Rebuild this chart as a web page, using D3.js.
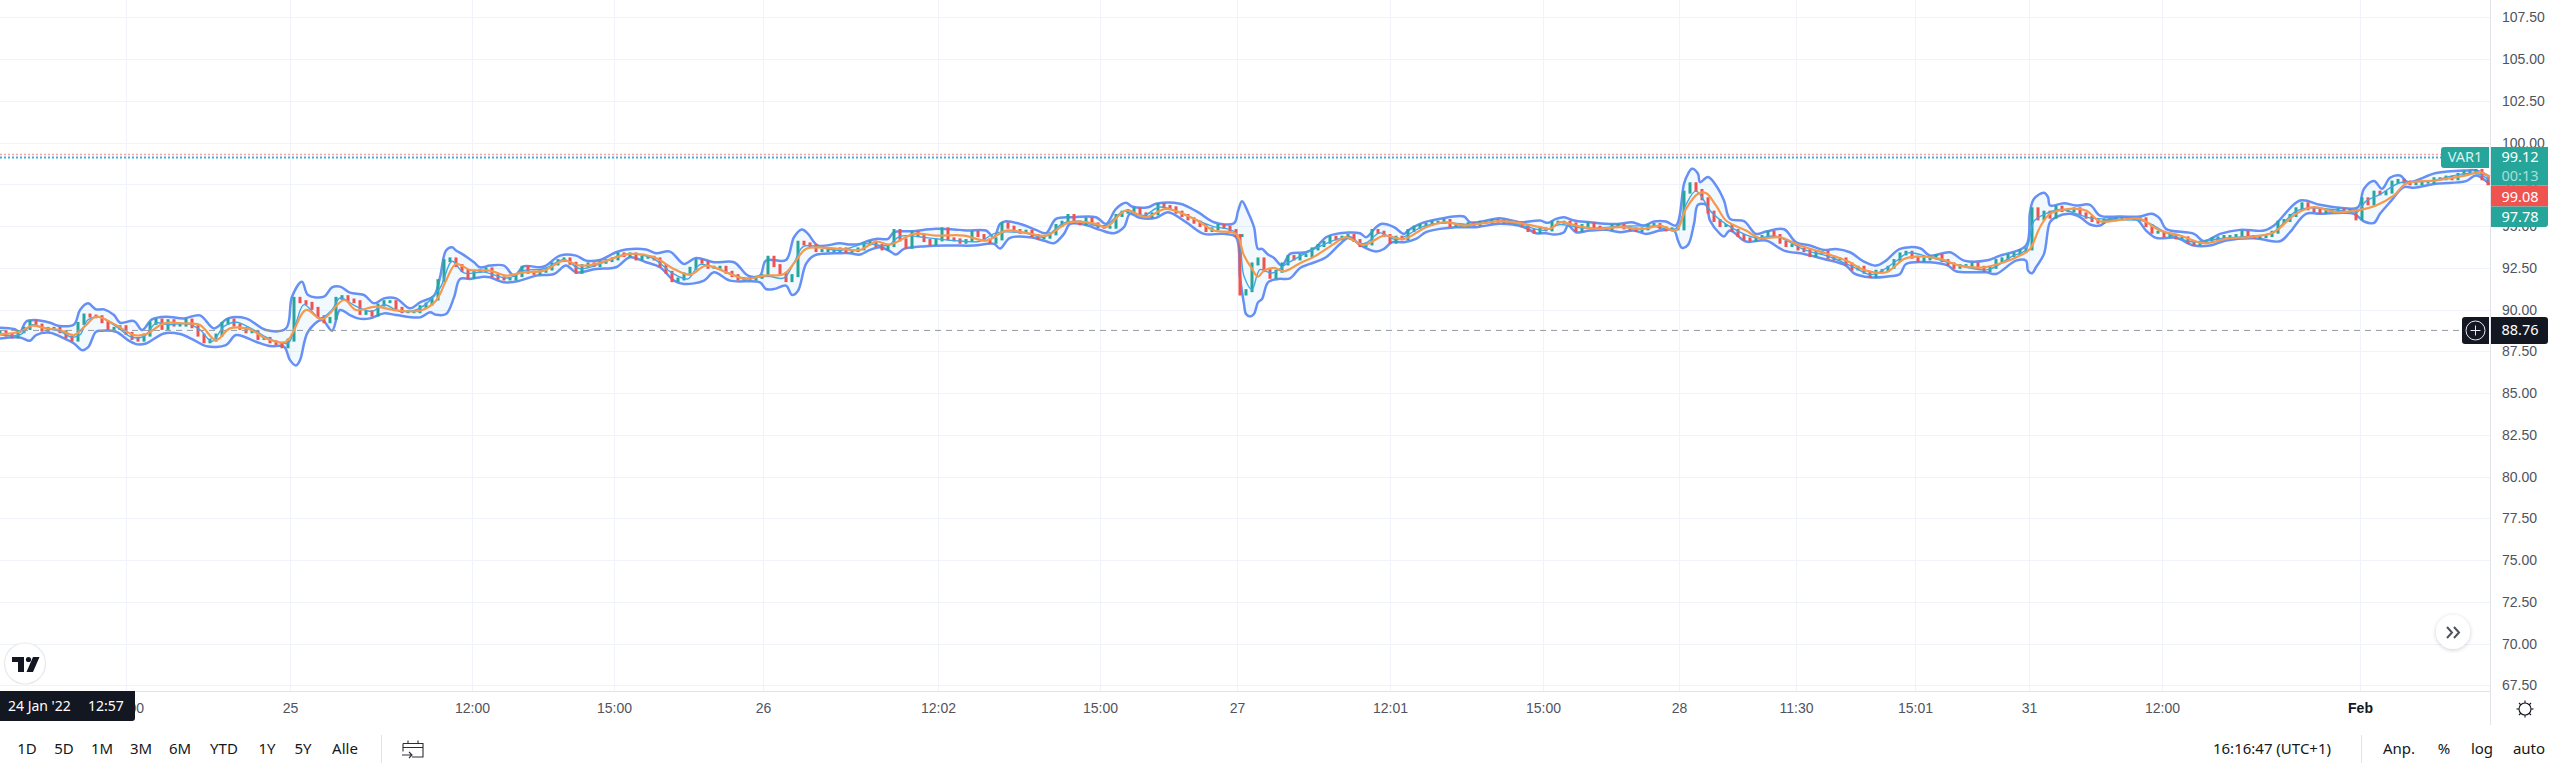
<!DOCTYPE html>
<html>
<head>
<meta charset="utf-8">
<title>VAR1</title>
<script src="https://d3js.org/d3.v7.min.js"></script>
<style>
  html, body { margin: 0; padding: 0; background: #fff; overflow: hidden; }
  svg { display: block; font-family: "Noto Sans", "Open Sans", sans-serif; }
  .tick text { fill: #50535e; }
  .btn { font-size: 15px; fill: #131722; text-anchor: middle; }
</style>
</head>
<body>
<div id="chart"></div>
<script>
// axis data
const priceTicks = [67.5,70,72.5,75,77.5,80,82.5,85,87.5,90,92.5,95,97.5,100,102.5,105,107.5];
const timeTickBars = [63,145,236,307,381.5,469,550,618.5,695,771.5,839.5,898,957.5,1014.5,1081,1180];
const timeTickLabels = ["15:00","25","12:00","15:00","26","12:02","15:00","27","12:01","15:00","28","11:30","15:01","31","12:00","Feb"];
const rangeButtons = ["1D","5D","1M","3M","6M","YTD","1Y","5Y","Alle"];
const rightButtons = ["Anp.","%","log","auto"];

// price lines
const lastPrice = 99.12, maPrice = 99.08, lowerPrice = 97.78, crossPrice = 88.76, redLine = 99.3;

// closes, one array per stretch of the chart, a bar every 3 steps
const closes1 = [88.68,88.48,88.38,88.68,88.88,89.28,89.08,88.78,88.88,88.88,88.68,88.38,88.18,89.18,89.68,89.62,89.58,89.28,88.88,88.88,88.98,88.58,88.28,88.18,88.48,89.18,89.38,88.88,89.34,89.08,89.08,89.38,88.98,88.48,88.08,88.18,88.48,89.18,89.38,89.08,88.88,88.68,88.68,88.28,88.28,88.08,87.98,87.78,88.18,90.68,90.48,90.38,90.08,89.58,89.28,89.48,90.68,90.78,90.58,90.48,89.78,89.88,89.68,90.28,90.48,90.48,90.08,89.88,89.88,89.88,90.18];
const closes2 = [90.34,90.64,91.74,92.94,93.04,92.64,92.34,91.94,92.3,92.34,92.44,92.04,91.9,91.84,91.84,92.04,92.54,92.24,92.18,92.3,92.44,92.74,92.94,93.04,92.78,92.24,92.64,92.74,92.64,92.84,92.94,93.04,93.34,93.24,93.34,93.04,93.14,93.14,93.04,92.64,92.24,91.74,91.84,92.14,92.48,92.94,92.84,92.54,92.54,92.54,92.24,92.04,91.84,91.84,91.84,91.94,92.04,93.14,92.64,92.14,91.74,92.04,94.04,93.94,93.84,93.54,93.54,93.54,93.54,93.64];
const closes3 = [93.5,93.54,93.64,93.94,94.04,93.84,93.64,93.84,94.74,94.18,93.74,94.64,94.44,94.14,93.94,94.18,94.84,94.24,94.18,94.04,94.14,94.64,94.44,94.18,94.04,94.24,95.14,94.94,94.74,94.64,94.7,94.44,94.3,94.34,94.54,95.04,95.24,95.64,95.24,95.14,95.44,95.14,94.98,94.94,94.94,95.64,95.84,95.94,96.04,95.74,95.58,95.74,96.3,96.18,96.1,95.84,95.64,95.44,95.24,95.04,94.74,94.84,95.04,94.94,94.74,94.44,94.44];
const closes4 = [90.94,91.14,92.74,93.04,92.34,91.94,92.3,92.74,93.18,93.04,93.24,93.24,93.64,93.84,94.04,94.34,94.24,94.34,94.44,94.14,93.84,93.94,94.74,94.64,94.44,94.04,94.34,94.24,94.74,94.94,95.04,95.1,95.24,95.24,95.34,95.04,95.04,95.04,95.14,95.1,95.24,95.24,95.34,95.3,95.24,95.24,95.14,95.04,94.74,94.64,94.84,94.78,95.24,95.24,95.24,95.14,94.74,95.04,95.14,94.94,94.84,94.84,95.04,95.04];
const closes5 = [94.9,94.84,94.74,94.84,95.04,95.1,94.9,94.78,94.84,94.84,97.04,97.54,97.14,96.64,95.84,95.34,95.04,95.04,94.74,94.44,94.24,94.18,94.3,94.38,94.64,94.44,94.04,93.84,93.84,93.64,93.54,93.24,93.44,93.44,93.14,93.04,93.04,92.74,92.44,92.54,92.24,91.98,92.3,92.34,92.54,92.94,93.34,93.44,93.14,92.94,93.04,93.14,93.24,92.94,92.74,92.54,92.64,92.64,92.74,92.54,92.34,92.54,92.94,93.04,93.24,93.34,93.54,93.64];
const closes6 = [96.04,95.44,95.84,95.54,96.14,95.94,95.94,96.04,95.74,95.54,95.34,95.24,95.38,95.38,95.44,95.44,95.44,95.44,95.44,95.04,94.64,94.64,94.44,94.44,94.3,94.3,94.04,93.94,94.04,94.1,94.24,94.3,94.38,94.38,94.44,94.64,94.38,94.34,94.38,94.44,94.64,95.24,95.34,95.64,96.04,96.34,96.04,95.94,95.84,95.9,95.94,95.98,95.9,95.94,95.44,96.64,96.34,97.04,96.94,97.04,97.64,97.74,97.64,97.54,97.54,97.64,97.64,97.84,97.84,97.94,97.84,98.1,98.24,98.24,98.34,97.84,97.54];
const closeStarts = [0,213,423,620,812,1016];

// upper bollinger band [bar, price]
const upper1 = [[0,88.92],[7,88.84],[10,88.68],[13,89.28],[17,89.38],[25,89.22],[29,89.04],[37,89.12],[40,89.98],[44,90.38],[48,90.02],[52,90.02],[57,89.68],[60,89.22],[67,89.32],[71,88.78],[76,89.42],[83,89.58],[92,89.48],[100,89.66],[107,88.88],[114,89.48],[123,89.48],[133,88.78],[143,88.88],[146,90.78],[151,91.68],[154,90.88],[162,90.78],[166,91.34],[170,91.38],[175,91.02],[182,90.88],[187,90.38],[192,90.68],[198,90.68],[205,90.08]];
const upper2 = [[210,90.44],[217,90.84],[220,91.94],[223,93.54],[226,93.74],[228,93.54],[231,93.34],[237,92.84],[240,92.54],[245,92.64],[252,92.64],[257,92.04],[262,92.6],[270,92.54],[273,92.64],[280,93.24],[288,93.24],[293,92.94],[300,92.98],[308,93.44],[313,93.6],[323,93.6],[328,93.38],[335,93.48],[342,92.74],[348,93.1],[357,92.84],[367,92.84],[374,92.04],[380,92.04],[383,92.94],[393,92.98],[397,94.34],[401,94.8],[404,94.54],[409,93.84]];
const upper3 = [[420,93.98],[425,93.9],[430,93.94],[433,94.08],[438,94.24],[444,94.24],[447,94.64],[456,94.7],[468,94.84],[480,94.78],[484,94.74],[493,94.74],[497,94.34],[500,95.14],[503,95.3],[511,95.1],[518,94.78],[523,94.58],[528,95.44],[537,95.54],[548,95.54],[553,95.14],[558,96.04],[563,96.4],[566,96.18],[574,96.14],[578,96.34],[590,96.34],[599,95.84],[607,95.24],[617,95.18]];
const upper4 = [[619,95.9],[621,96.5],[624,95.84],[627,94.94],[629,93.64],[631,93.64],[634,93.3],[637,93.1],[641,92.64],[645,93.34],[653,93.44],[658,93.74],[663,94.34],[668,94.54],[680,94.58],[683,94.34],[688,94.94],[691,95.14],[697,94.94],[702,94.54],[704,94.74],[710,95.14],[720,95.44],[732,95.58],[735,95.24],[745,95.38],[750,95.48],[760,95.24],[770,95.34],[774,95.2],[778,95.44],[782,95.54],[787,95.34],[795,95.24],[803,95.14]];
const upper5 = [[810,95.14],[816,95.24],[822,95.04],[827,95.28],[833,95.28],[838,95.04],[842,97.54],[844,98.14],[846,98.44],[849,98.14],[850,97.64],[854,97.94],[858,97.44],[862,96.54],[865,95.44],[872,95.3],[878,94.54],[883,94.68],[892,94.82],[898,94.04],[905,93.84],[912,93.58],[918,93.64],[925,93.44],[932,92.88],[938,92.64],[943,92.94],[950,93.64],[960,93.68],[965,93.24],[975,93.44],[982,92.94],[993,92.94],[1000,93.24],[1013,93.84]];
const upper6 = [[1015,95.84],[1017,96.64],[1022,97.0],[1024,96.74],[1025,96.24],[1032,96.38],[1038,96.24],[1045,96.28],[1050,95.64],[1060,95.58],[1070,95.58],[1076,95.74],[1080,95.44],[1083,94.84],[1097,94.54],[1102,94.1],[1110,94.54],[1120,94.78],[1132,94.74],[1137,95.04],[1150,96.54],[1160,96.28],[1170,96.1],[1179,96.14],[1182,97.24],[1187,97.7],[1191,97.24],[1195,97.9],[1200,98.04],[1204,97.64],[1218,98.18],[1233,98.34],[1238,98.34],[1245,97.95]];

// lower bollinger band
const lower1 = [[0,88.28],[10,88.34],[15,88.14],[18,88.48],[25,88.62],[32,88.28],[37,87.98],[41,87.58],[44,87.74],[48,88.68],[51,88.74],[58,88.68],[64,88.18],[68,87.94],[73,87.98],[82,88.58],[90,88.54],[97,88.18],[103,87.82],[113,87.88],[118,88.48],[128,88.08],[135,87.82],[142,87.78],[145,86.98],[148,86.66],[150,86.98],[154,88.68],[161,89.38],[166,88.74],[170,89.98],[175,89.68],[179,89.48],[185,89.48],[192,89.78],[198,89.68]];
const lower2 = [[210,89.54],[215,89.84],[218,89.7],[223,89.74],[227,90.74],[230,91.84],[235,91.84],[242,91.98],[245,91.94],[252,91.64],[260,91.74],[268,92.04],[277,92.14],[283,92.64],[288,92.24],[298,92.44],[308,92.54],[315,93.14],[323,92.84],[330,92.54],[337,91.74],[342,91.54],[352,91.74],[357,92.24],[365,91.74],[380,91.64],[383,91.24],[387,91.24],[393,91.44],[396,90.88],[399,91.14],[403,92.74],[407,93.24]];
const lower3 = [[420,93.38],[425,93.38],[430,93.3],[435,93.58],[440,93.74],[445,93.5],[448,93.3],[452,93.64],[463,93.8],[475,93.84],[487,93.84],[497,93.94],[500,93.66],[505,94.3],[515,94.34],[523,94.1],[527,93.98],[532,94.54],[535,95.14],[542,95.1],[550,94.78],[557,94.58],[562,94.94],[565,95.74],[570,95.5],[578,95.5],[584,95.84],[593,95.24],[602,94.54],[612,94.54]];
const lower4 = [[618,94.34],[620,91.94],[622,90.34],[623,89.74],[625,89.6],[627,89.74],[629,90.44],[631,90.64],[634,91.64],[639,91.84],[645,91.88],[650,92.5],[655,92.74],[663,93.14],[670,93.94],[675,94.34],[680,93.88],[688,93.48],[692,93.64],[696,94.04],[702,94.04],[708,94.24],[713,94.64],[720,94.84],[728,94.94],[738,94.94],[750,95.14],[762,94.94],[768,94.58],[773,94.58],[777,94.5],[782,94.64],[784,95.04],[788,94.64],[795,94.74],[803,94.78]];
const lower5 = [[810,94.64],[817,94.74],[823,94.54],[830,94.74],[837,94.74],[839,94.14],[841,93.7],[844,93.88],[847,95.14],[849,96.28],[853,96.28],[855,95.34],[860,94.54],[862,94.38],[865,94.74],[873,94.08],[883,94.14],[892,93.54],[902,93.34],[912,93.04],[923,92.64],[927,92.18],[935,91.94],[943,91.98],[950,92.14],[953,92.74],[965,92.84],[974,92.64],[978,92.3],[993,92.24],[998,92.14],[1008,92.94]];
const lower6 = [[1013,92.94],[1014,92.34],[1016,92.18],[1018,92.54],[1022,93.34],[1025,95.24],[1028,95.54],[1035,95.74],[1040,95.54],[1045,95.1],[1050,95.04],[1055,95.44],[1068,95.44],[1073,94.74],[1078,94.3],[1088,94.3],[1097,93.84],[1105,93.84],[1113,94.14],[1127,94.28],[1140,94.1],[1145,94.64],[1153,95.74],[1160,95.74],[1177,95.74],[1182,95.28],[1187,95.2],[1190,95.74],[1195,96.44],[1202,97.34],[1207,97.3],[1218,97.54],[1233,97.7],[1238,98.04],[1245,97.5]];

// slow moving average
const slowMa = [[0,88.54],[10,88.68],[16,89.04],[23,88.88],[30,88.78],[37,88.48],[43,89.08],[48,89.58],[58,89.08],[67,88.48],[73,88.54],[82,89.18],[92,89.18],[100,89.08],[108,88.18],[115,88.88],[125,88.82],[133,88.28],[143,88.08],[153,89.98],[161,89.42],[172,90.58],[178,89.98],[188,90.18],[197,89.98],
  [210,89.94],[218,90.54],[223,91.74],[228,92.74],[235,92.38],[245,92.34],[253,92.04],[262,92.24],[272,92.34],[282,92.94],[290,92.64],[298,92.74],[315,93.34],[327,93.14],[337,92.44],[345,92.1],[353,92.64],[365,92.14],[373,91.84],[382,92.04],[392,92.14],[398,92.94],[403,93.64],
  [420,93.64],[430,93.58],[438,94.08],[445,93.9],[457,94.54],[468,94.44],[482,94.44],[493,94.14],[503,94.74],[513,94.6],[523,94.44],[535,95.24],[548,95.14],[553,94.94],[563,95.94],[573,95.54],[583,96.04],[597,95.44],[607,94.74],
  [618,94.54],[622,93.24],[626,92.44],[629,91.98],[632,92.34],[637,92.5],[642,92.3],[650,92.78],[658,93.24],[667,93.94],[673,94.34],[682,93.88],[692,94.44],[702,94.24],[713,94.94],[723,95.24],[732,95.04],[742,95.18],[750,95.3],[760,95.18],[770,94.94],[775,94.84],[780,95.24],[788,95.04],[798,94.84],
  [810,94.94],[822,94.84],[830,95.04],[838,94.74],[843,96.04],[849,96.94],[853,96.98],[858,96.24],[863,95.34],[873,94.74],[880,94.28],[890,94.34],[900,93.84],[910,93.48],[923,92.94],[933,92.34],[943,92.24],[952,93.04],[958,93.18],[970,93.04],[980,92.64],[992,92.54],[1002,92.84],
  [1010,93.24],[1015,93.64],[1020,94.94],[1025,95.74],[1035,96.04],[1043,95.94],[1050,95.3],[1060,95.38],[1070,95.44],[1080,94.74],[1090,94.44],[1102,93.98],[1113,94.24],[1127,94.38],[1137,94.64],[1148,95.74],[1157,96.14],[1168,95.84],[1180,95.98],[1188,96.24],[1197,96.84],[1203,97.54],[1218,97.74],[1233,98.04],[1240,98.24],[1245,97.94]];

// fast moving average
const fastMa = [[0,88.5],[10,88.5],[16,89.1],[22,88.9],[30,88.7],[36,88.35],[40,88.5],[44,89.4],[50,89.55],[58,89.0],[66,88.35],[72,88.4],[78,89.2],[84,89.1],[94,89.15],[100,88.8],[106,88.1],[112,89.0],[118,89.25],[126,88.85],[134,88.3],[144,88.0],[148,89.2],[152,90.3],[160,89.5],[166,90.0],[170,90.7],[178,90.2],[186,89.9],[192,90.3],[200,89.9],[210,90.1],
  [220,91.3],[226,92.9],[232,92.2],[242,92.25],[254,91.9],[262,92.35],[272,92.45],[282,93.0],[290,92.45],[300,92.75],[312,93.3],[326,93.1],[336,92.2],[344,91.85],[350,92.7],[360,92.4],[372,91.9],[384,92.0],[392,91.9],[397,92.8],[402,93.8],[420,93.55],
  [432,93.95],[444,93.85],[450,94.4],[464,94.3],[476,94.15],[490,94.1],[498,94.6],[512,94.6],[522,94.35],[532,95.2],[540,95.3],[552,95.0],[562,95.9],[572,95.65],[580,96.15],[596,95.5],[606,95.0],[618,94.6],[622,92.0],[626,91.2],[630,92.4],[636,92.2],[644,92.8],[660,93.8],[672,94.3],[682,93.95],[690,94.6],[698,94.2],[712,95.0],[724,95.2],[736,95.1],[750,95.3],[764,94.95],[772,94.75],[780,95.1],[790,94.9],[800,94.9],[810,95.0],
  [826,95.0],[838,94.85],[843,96.3],[848,97.1],[856,95.8],[866,94.9],[878,94.3],[888,94.4],[902,93.6],[914,93.2],[926,92.6],[936,92.1],[948,92.9],[954,93.4],[966,93.1],[978,92.7],[994,92.4],[1006,93.2],[1013,93.6],[1017,95.3],[1022,95.7],[1030,96.0],[1045,95.5],[1060,95.4],[1072,95.3],[1085,94.5],[1097,94.05],[1110,94.25],[1125,94.4],[1136,94.6],[1148,95.9],[1154,96.1],[1170,95.95],[1178,95.8],[1183,96.5],[1190,96.9],[1200,97.6],[1215,97.7],[1232,98.15],[1240,98.1],[1245,97.7]];

const upColor = "#26a69a", downColor = "#ef5350", dark = "#131722", gridColor = "#f0f3fa", lineColor = "#e0e3eb";

const width = 2560, height = 773;
const paneW = 2490, paneH = 691, axisBottom = 725;

const svg = d3.select("#chart").append("svg").attr("width", width).attr("height", height);
const defs = svg.append("defs");
defs.append("clipPath").attr("id", "pane").append("rect").attr("width", paneW).attr("height", paneH);
defs.append("clipPath").attr("id", "yclip").append("rect").attr("x", paneW).attr("width", 70).attr("height", paneH);
defs.append("filter").attr("id", "shadow").append("feDropShadow")
  .attr("dx", 0).attr("dy", 1).attr("stdDeviation", 2).attr("flood-color", "#000").attr("flood-opacity", 0.2);

const x = d3.scaleLinear().domain([0, 1245]).range([0, paneW]);
const y = d3.scaleLinear().domain([67.5, 107.5]).range([685.45, 17.45]);

// grid
const grid = svg.append("g").attr("stroke", gridColor);
grid.selectAll(".h").data(priceTicks).join("line").attr("class", "h")
  .attr("x1", 0).attr("x2", paneW).attr("y1", d => Math.round(y(d)) + .5).attr("y2", d => Math.round(y(d)) + .5);
grid.selectAll(".v").data(timeTickBars).join("line").attr("class", "v")
  .attr("y1", 0).attr("y2", paneH).attr("x1", d => Math.round(x(d)) + .5).attr("x2", d => Math.round(x(d)) + .5);

const pane = svg.append("g").attr("clip-path", "url(#pane)");

const line = d3.line().x(d => x(d[0])).y(d => y(d[1])).curve(d3.curveCatmullRom.alpha(0.5));
const upper = [].concat(upper1, upper2, upper3, upper4, upper5, upper6);
const lower = [].concat(lower1, lower2, lower3, lower4, lower5, lower6);

// band fill
pane.append("path")
  .attr("d", line(upper) + "L" + line(lower.slice().reverse()).slice(1) + "Z")
  .attr("fill", "#2196f3").attr("fill-opacity", 0.06);

pane.selectAll(".band").data([upper, lower]).join("path").attr("class", "band")
  .attr("d", line).attr("fill", "none").attr("stroke", "#6690f5").attr("stroke-width", 2.5);

// candles: each opens where the one before closed
const candles = [];
let prevClose = closes1[0];
[closes1, closes2, closes3, closes4, closes5, closes6].forEach((arr, k) => {
  arr.forEach((c, i) => {
    candles.push({bar: closeStarts[k] + i * 3, open: prevClose, close: c});
    prevClose = c;
  });
});
pane.selectAll(".candle").data(candles).join("rect").attr("class", "candle")
  .attr("x", d => x(d.bar) - 1.5)
  .attr("width", 3)
  .attr("y", d => Math.min(y(d.open), y(d.close)) - 1.5)
  .attr("height", d => Math.abs(y(d.open) - y(d.close)) + 3)
  .attr("fill", d => d.close >= d.open ? upColor : downColor);

pane.append("path").attr("d", line(fastMa)).attr("fill", "none").attr("stroke", "#42a5e8").attr("stroke-width", 1.4);
pane.append("path").attr("d", line(slowMa)).attr("fill", "none").attr("stroke", "#f5994e").attr("stroke-width", 2.2);

// price lines
svg.append("line").attr("x1", 0).attr("x2", 2441).attr("y1", y(redLine)).attr("y2", y(redLine))
  .attr("stroke", "#f7a5a3").attr("stroke-dasharray", "2 2").attr("stroke-width", 1.5);
svg.append("line").attr("x1", 0).attr("x2", 2441).attr("y1", y(lastPrice)).attr("y2", y(lastPrice))
  .attr("stroke", "#3fb0d8").attr("stroke-dasharray", "2 2").attr("stroke-width", 2);
svg.append("line").attr("x1", 0).attr("x2", 2462).attr("y1", y(crossPrice)).attr("y2", y(crossPrice))
  .attr("stroke", "#9598a1").attr("stroke-dasharray", "6 5");

// price axis
const yAxis = svg.append("g").attr("clip-path", "url(#yclip)").append("g")
  .attr("transform", `translate(${paneW},0)`)
  .call(d3.axisRight(y).tickValues(priceTicks).tickFormat(d3.format(".2f")).tickSize(0).tickPadding(12));
yAxis.select(".domain").remove();
yAxis.selectAll("text").attr("font-size", 14).attr("font-family", "inherit");

// time axis
const xAxis = svg.append("g").attr("transform", `translate(0,${paneH})`)
  .call(d3.axisBottom(x).tickValues(timeTickBars).tickFormat((d, i) => timeTickLabels[i]).tickSize(0).tickPadding(14));
xAxis.select(".domain").remove();
xAxis.selectAll("text").attr("font-size", 14).attr("font-family", "inherit").attr("dy", "0.6em")
  .style("fill", (d, i) => timeTickLabels[i] == "Feb" ? dark : null)
  .attr("font-weight", (d, i) => timeTickLabels[i] == "Feb" ? 700 : 400);

// frame lines
svg.append("line").attr("x1", 0).attr("x2", paneW).attr("y1", paneH + .5).attr("y2", paneH + .5).attr("stroke", lineColor);
svg.append("line").attr("x1", paneW + .5).attr("x2", paneW + .5).attr("y1", 0).attr("y2", axisBottom).attr("stroke", lineColor);

// tags on the price scale
function tag(path, fill) { svg.append("path").attr("d", path).attr("fill", fill); }
function tagText(tx, ty, s, fill, anchor) {
  svg.append("text").attr("x", tx).attr("y", ty).attr("dy", "0.35em").attr("text-anchor", anchor || "middle")
    .attr("font-size", 14.5).attr("fill", fill || "#fff").text(s);
}
tag("M2444,147H2489V168H2444a3,3 0 0 1 -3,-3V150a3,3 0 0 1 3,-3Z", upColor);
tagText(2465, y(lastPrice), "VAR1", "#d8f2ee");
tag("M2491,147H2548V185.5H2491Z", upColor);
tagText(2520, y(lastPrice), d3.format(".2f")(lastPrice));
tagText(2520, 176, "00:13", "#a8dfd9");
tag("M2491,185.5H2548V206.5H2491Z", downColor);
tagText(2520, 196.5, d3.format(".2f")(maPrice));
tag("M2491,206.5H2548V224a3,3 0 0 1 -3,3H2491Z", upColor);
tagText(2520, 217, d3.format(".2f")(lowerPrice));

tag("M2465,317H2489V344H2465a3,3 0 0 1 -3,-3V320a3,3 0 0 1 3,-3Z", dark);
tag("M2491,317H2545a3,3 0 0 1 3,3V341a3,3 0 0 1 -3,3H2491Z", dark);
tagText(2520, y(crossPrice), d3.format(".2f")(crossPrice));
svg.append("circle").attr("cx", 2475.5).attr("cy", 330.5).attr("r", 9.5).attr("fill", "none").attr("stroke", "#e8e9ec").attr("stroke-width", 1);
svg.append("path").attr("d", "M2475.5,325.5V335.5M2470.5,330.5H2480.5").attr("stroke", "#e8e9ec").attr("fill", "none");

// date tag
tag("M0,691H135V718a3,3 0 0 1 -3,3H0Z", dark);
svg.append("text").attr("x", 8).attr("y", 711).attr("font-size", 14).attr("fill", "#fff").text("24 Jan '22");
svg.append("text").attr("x", 88).attr("y", 711).attr("font-size", 14).attr("fill", "#fff").text("12:57");

// logo
svg.append("circle").attr("cx", 25).attr("cy", 663.5).attr("r", 20.5).attr("fill", "#fff").attr("stroke", "#e8e9ec").attr("stroke-width", 1.2);
svg.append("path").attr("fill", dark).attr("d", "M12,657H24V672H18V662H12ZM33,657H39.5L33,672H26.5Z");
svg.append("circle").attr("cx", 28.5).attr("cy", 659.5).attr("r", 2.6).attr("fill", dark);

// go to realtime button
svg.append("circle").attr("cx", 2453).attr("cy", 632).attr("r", 17).attr("fill", "#fff").attr("filter", "url(#shadow)");
svg.append("path").attr("d", "M2447,627L2452,632.5L2447,638M2454,627L2459,632.5L2454,638")
  .attr("fill", "none").attr("stroke", "#50535e").attr("stroke-width", 2);

// settings gear
const gear = svg.append("g").attr("transform", "translate(2525,709)").attr("fill", "none").attr("stroke", dark).attr("stroke-width", 1.1);
gear.append("circle").attr("r", 6);
gear.selectAll("line").data(d3.range(8)).join("line")
  .attr("y1", -6).attr("y2", -8.5).attr("transform", d => `rotate(${d * 45})`);

// bottom toolbar
const rangeX = [27,64,102,141,180,224,267,303,345];
svg.selectAll(".range").data(rangeButtons).join("text").attr("class", "btn range")
  .attr("x", (d, i) => rangeX[i]).attr("y", 749).attr("dy", "0.35em").text(d => d);
svg.append("line").attr("x1", 381.5).attr("x2", 381.5).attr("y1", 735).attr("y2", 763).attr("stroke", lineColor);
svg.append("path").attr("fill", "none").attr("stroke", "#2a2e39").attr("stroke-width", 1.1)
  .attr("d", "M403,743.5H423V757H412M403,751.5V743.5M403,747.5H423M408,740.5V744M418,740.5V744M402,755H412M409,752L412,755L409,758");
svg.append("text").attr("class", "btn").attr("x", 2272).attr("y", 749).attr("dy", "0.35em").text("16:16:47 (UTC+1)");
svg.append("line").attr("x1", 2361.5).attr("x2", 2361.5).attr("y1", 735).attr("y2", 763).attr("stroke", lineColor);
const rightX = [2399,2444,2482,2529];
svg.selectAll(".rb").data(rightButtons).join("text").attr("class", "btn rb")
  .attr("x", (d, i) => rightX[i]).attr("y", 749).attr("dy", "0.35em").text(d => d);
</script>
</body>
</html>
